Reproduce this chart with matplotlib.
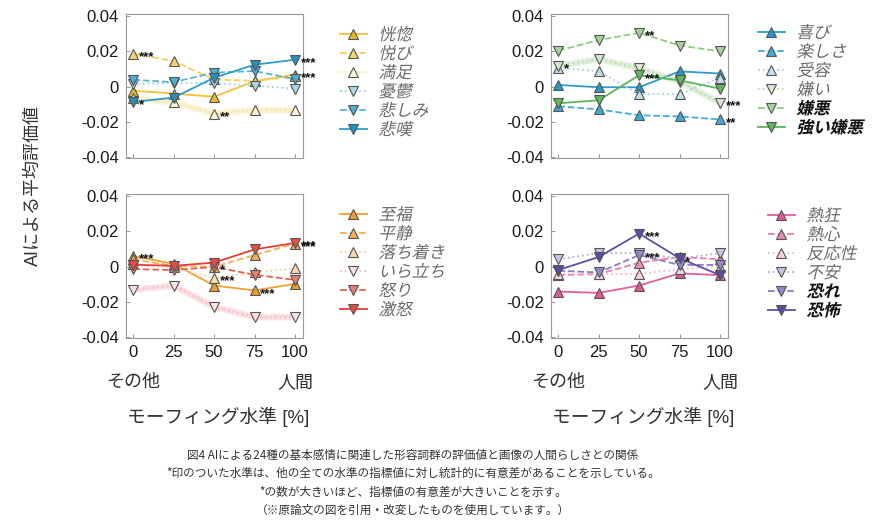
import numpy as np
import matplotlib.pyplot as plt
from matplotlib.textpath import TextPath
from matplotlib.patches import PathPatch
from matplotlib.font_manager import FontProperties
from matplotlib.transforms import Affine2D, IdentityTransform

plt.rcParams['font.family'] = ['Liberation Sans', 'Noto Sans CJK JP']
JP = ['Noto Sans CJK JP', 'Liberation Sans']
LAT = ['Liberation Sans', 'Noto Sans CJK JP']

levels = [0, 25, 50, 75, 100]

# --- top left: yellow / blue
tl_names = ['恍惚', '悦び', '満足', '憂鬱', '悲しみ', '悲嘆']
kouko = [-0.0024, -0.0040, -0.0058, 0.0030, 0.0068]
etsubi = [0.0187, 0.0144, 0.0040, 0.0032, 0.0058]
manzoku = [-0.0067, -0.0090, -0.0155, -0.0133, -0.0136]
yuuutsu = [0.0015, 0.0020, 0.0020, 0.0004, -0.0012]
kanashimi = [0.0038, 0.0025, 0.0079, 0.0088, 0.0042]
hitan = [-0.0087, -0.0063, 0.0050, 0.0124, 0.0152]
tl_vals = [kouko, etsubi, manzoku, yuuutsu, kanashimi, hitan]
tl_stars = [(1, 0, '***'), (5, 0, '*'), (2, 2, '**'), (5, 4, '***'), (0, 4, '***')]

# --- top right: blue / green
tr_names = ['喜び', '楽しさ', '受容', '嫌い', '嫌悪', '強い嫌悪']
yorokobi = [0.0009, -0.0004, -0.0004, 0.0086, 0.0074]
tanoshisa = [-0.0112, -0.0130, -0.0163, -0.0170, -0.0187]
juyou = [0.0107, 0.0086, -0.0043, -0.0043, 0.0050]
kirai = [0.0118, 0.0155, 0.0104, 0.0028, -0.0093]
keno = [0.0204, 0.0264, 0.0305, 0.0233, 0.0200]
tsuyoi_keno = [-0.0095, -0.0078, 0.0064, 0.0035, -0.0012]
tr_vals = [yorokobi, tanoshisa, juyou, kirai, keno, tsuyoi_keno]
tr_stars = [(3, 0, '*'), (4, 2, '**'), (5, 2, '***'), (3, 4, '***'), (1, 4, '**')]

# --- bottom left: orange / red
bl_names = ['至福', '平静', '落ち着き', 'いら立ち', '怒り', '激怒']
shifuku = [0.0060, 0.0015, -0.0108, -0.0136, -0.0099]
heisei = [0.0040, 0.0004, -0.0002, 0.0065, 0.0130]
ochitsuki = [0.0013, -0.0005, -0.0065, -0.0033, -0.0010]
iradachi = [-0.0132, -0.0108, -0.0229, -0.0288, -0.0288]
ikari = [-0.0015, -0.0020, -0.0003, -0.0047, -0.0076]
gekido = [0.0010, 0.0004, 0.0022, 0.0097, 0.0134]
bl_vals = [shifuku, heisei, ochitsuki, iradachi, ikari, gekido]
bl_stars = [(0, 0, '***'), (4, 2, '*'), (2, 2, '***'), (0, 3, '***'),
            (5, 4, '***'), (1, 4, '***')]

# --- bottom right: pink / purple
br_names = ['熱狂', '熱心', '反応性', '不安', '恐れ', '恐怖']
nekkyou = [-0.0142, -0.0150, -0.0108, -0.0039, -0.0049]
nesshin = [-0.0049, -0.0043, 0.0022, 0.0054, 0.0041]
hannousei = [-0.0040, -0.0043, -0.0043, -0.0015, 0.0000]
fuan = [0.0041, 0.0076, 0.0076, 0.0045, 0.0075]
osore = [-0.0024, -0.0034, 0.0065, 0.0009, 0.0009]
kyoufu = [-0.0020, 0.0054, 0.0187, 0.0047, -0.0049]
br_vals = [nekkyou, nesshin, hannousei, fuan, osore, kyoufu]
br_stars = [(5, 2, '***'), (4, 2, '***'), (5, 3, '*')]

styles = ['-', '--', ':', ':', '--', '-']
marks = ['^', '^', '^', 'v', 'v', 'v']

panels = [
    dict(names=tl_names, vals=tl_vals, stars=tl_stars,
         line=['#F2C233', '#F5D15C', '#F7E3A0', '#9BD2E6', '#55B4D8', '#2E9CC8'],
         face=['#E9B82A', '#F3D46E', '#FBF3D6', '#A9DAEC', '#4AAED6', '#2590BE'],
         band=[2], bold=[],
         pos=[0.1445, 0.6990], leg=(340, 27)),
    dict(names=tr_names, vals=tr_vals, stars=tr_stars,
         line=['#2C9CC9', '#45ACD5', '#9ED0E4', '#B9DDAB', '#8ECA80', '#5DB55A'],
         face=['#2A98C6', '#3FA8D3', '#BFE0EC', '#D8E8D0', '#A8D49C', '#62B95C'],
         band=[3], bold=[4, 5],
         pos=[0.6319, 0.6990], leg=(758, 25)),
    dict(names=bl_names, vals=bl_vals, stars=bl_stars,
         line=['#F0A030', '#F4B04E', '#F8CFA0', '#F6B8C2', '#E8604E', '#E63C3A'],
         face=['#EE9C2C', '#F3AE58', '#F8D8B0', '#FBE2E4', '#EE7E6C', '#EA4A44'],
         band=[3], bold=[],
         pos=[0.1445, 0.3562], leg=(340, 207)),
    dict(names=br_names, vals=br_vals, stars=br_stars,
         line=['#E0609A', '#E87EAE', '#F2B6D0', '#B3ABD9', '#8C7CC4', '#5E4EA6'],
         face=['#DE5A96', '#EA8AB6', '#F8D2E2', '#C8C2E4', '#9686CC', '#5C4AA4'],
         band=[], bold=[4, 5],
         pos=[0.6319, 0.3562], leg=(768, 208)),
]

fig = plt.figure(figsize=(8.72, 5.25), dpi=100)
W, H = 872, 525
legends = []

for i, p in enumerate(panels):
    ax = fig.add_axes([p['pos'][0], p['pos'][1], 0.203, 0.274])
    handles = []
    for k, (nm, v) in enumerate(zip(p['names'], p['vals'])):
        if k in p['band']:
            ax.plot(levels, v, color=p['line'][k], lw=4.5, alpha=0.45,
                    solid_capstyle='butt', zorder=1)
        h, = ax.plot(levels, v, ls=styles[k], lw=1.3, color=p['line'][k],
                     marker=marks[k], ms=7, mfc=p['face'][k], mec='#555555',
                     mew=0.8, zorder=2 + k * 0.1, label=nm)
        handles.append(h)
    for k, xi, s in p['stars']:
        ax.annotate(s, (levels[xi], p['vals'][k][xi]), xytext=(4, -2.5),
                    textcoords='offset points', fontsize=9.5, fontweight='bold',
                    va='center', ha='left', color='#111111', zorder=5)
    ax.set_xlim(-4.5, 105)
    ax.set_ylim(-0.0406, 0.0411)
    ax.set_yticks([-0.04, -0.02, 0, 0.02, 0.04])
    ax.set_yticklabels(['-0.04', '-0.02', '0', '0.02', '0.04'])
    ax.set_xticks(levels)
    if i < 2:
        ax.set_xticklabels([])
    ax.tick_params(direction='in', length=3, width=0.6, color='#888888',
                   labelsize=12, labelcolor='#1a1a1a', pad=5)
    for sp in ax.spines.values():
        sp.set_color('#999999')
        sp.set_linewidth(0.8)

    leg = ax.legend(handles=handles, loc='upper left', frameon=False,
                    bbox_to_anchor=(p['leg'][0] / W, 1 - p['leg'][1] / H),
                    bbox_transform=fig.transFigure, borderpad=0,
                    borderaxespad=0, handlelength=1.6, handletextpad=0.7,
                    labelspacing=0.12, prop={'family': JP, 'size': 12})
    legends.append((leg, p['bold']))

fig.text(33 / W, 1 - 185 / H, 'AIによる平均評価値', rotation=90, family=LAT,
         fontsize=13, color='#333333', ha='center', va='center')

for cx in (0.1445, 0.6319):
    x0 = cx + 0.203 * (4.5 / 109.5)
    x1 = cx + 0.203 * (104.5 / 109.5)
    fig.text(x0, 1 - 382 / H, 'その他', family=JP, fontsize=13,
             color='#333333', ha='center', va='center')
    fig.text(x1, 1 - 382 / H, '人間', family=JP, fontsize=13,
             color='#333333', ha='center', va='center')
    fig.text(cx + 0.203 * 0.52, 1 - 417 / H, 'モーフィング水準 [%]', family=LAT,
             fontsize=13.5, color='#333333', ha='center', va='center')

caption = [
    '図4 AIによる24種の基本感情に関連した形容詞群の評価値と画像の人間らしさとの関係',
    '*印のついた水準は、他の全ての水準の指標値に対し統計的に有意差があることを示している。',
    '*の数が大きいほど、指標値の有意差が大きいことを示す。',
    '（※原論文の図を引用・改変したものを使用しています。）',
]
for j, line in enumerate(caption):
    fig.text(413 / W, 1 - (455 + j * 18.5) / H, line, family=JP, fontsize=8.4,
             color='#333333', ha='center', va='center')

# legend labels are italic in the original; CJK font has no italic, so slant the glyph paths
fig.canvas.draw()
for leg, bold in legends:
    for k, t in enumerate(leg.get_texts()):
        bx, by = t.get_transform().transform(t.get_position())
        fp = FontProperties(family='Noto Sans CJK JP', size=12,
                            weight='bold' if k in bold else 'normal')
        tp = TextPath((0, 0), t.get_text(), prop=fp)
        tr = Affine2D().skew_deg(13, 0).scale(fig.dpi / 72).translate(bx, by)
        fig.add_artist(PathPatch(tr.transform_path(tp), transform=IdentityTransform(),
                                 fc='#111111' if k in bold else '#6a6a6a',
                                 ec='none'))
        t.set_visible(False)

fig.savefig('out.png', dpi=100)
